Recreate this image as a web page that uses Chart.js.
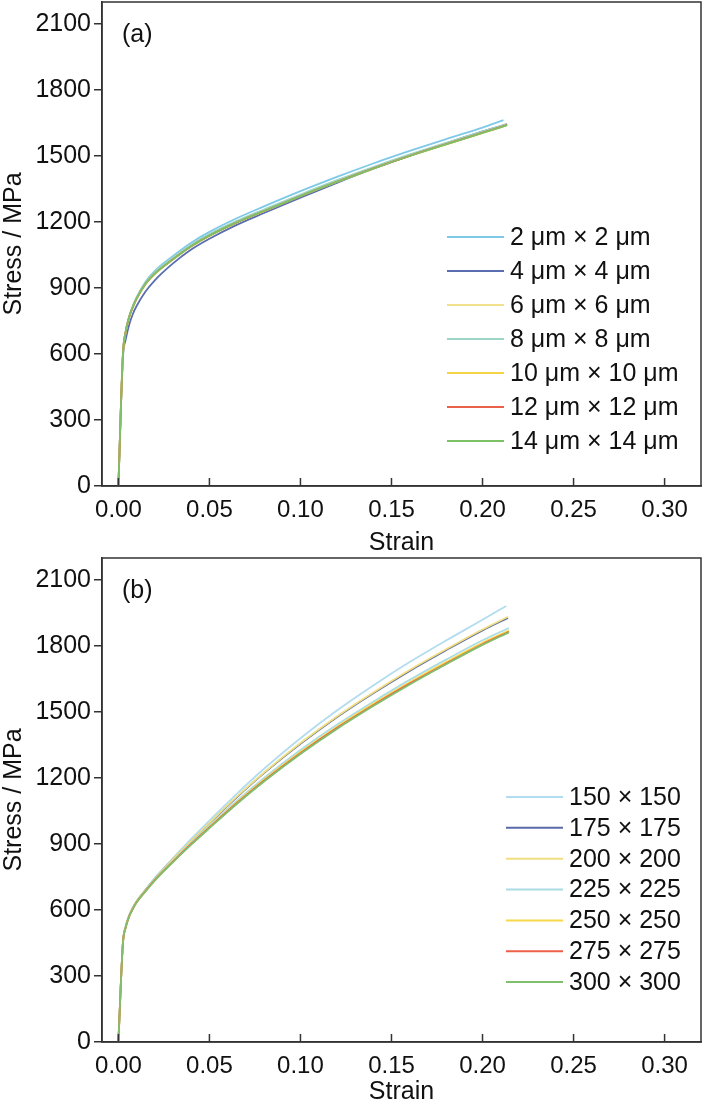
<!DOCTYPE html>
<html>
<head>
<meta charset="utf-8">
<script src="https://cdn.jsdelivr.net/npm/chart.js@4.4.1/dist/chart.umd.min.js"></script>
<style>
  html, body { margin: 0; padding: 0; background: #fff; }
  #wrap { position: relative; width: 703px; height: 1105px; }
  canvas { position: absolute; left: 0; }
</style>
</head>
<body>
<div id="wrap">
  <canvas id="chartA" style="top:0px"></canvas>
  <canvas id="chartB" style="top:552px"></canvas>
</div>
<script>
// ---- data ----
var strainA = [0, 0.0025, 0.004, 0.006, 0.008, 0.01, 0.015, 0.02, 0.03, 0.04, 0.05, 0.065, 0.08, 0.10, 0.12, 0.14, 0.16, 0.18, 0.20, 0.2135];
var endStrainA = [0.2115, 0.2135, 0.2135, 0.2135, 0.2135, 0.2135, 0.2135];
var labelsA = ['2 μm × 2 μm', '4 μm × 4 μm', '6 μm × 6 μm', '8 μm × 8 μm', '10 μm × 10 μm', '12 μm × 12 μm', '14 μm × 14 μm'];
var stressA2  = [0, 602, 703, 773, 820, 858, 930, 978, 1046, 1106, 1155, 1217, 1271, 1340, 1405, 1466, 1523, 1577, 1629, 1663];
var stressA4  = [0, 585, 665, 735, 783, 818, 885, 935, 1012, 1075, 1124, 1187, 1241, 1311, 1378, 1442, 1502, 1558, 1612, 1645];
var stressA6  = [0, 600, 700, 770, 815, 852, 922, 968, 1035, 1093, 1140, 1200, 1252, 1320, 1385, 1446, 1504, 1557, 1609, 1643];
var stressA8  = [0, 601, 702, 772, 818, 855, 925, 972, 1040, 1097, 1145, 1205, 1257, 1325, 1390, 1450, 1507, 1560, 1612, 1645];
var stressA10 = [0, 598, 698, 768, 813, 850, 918, 963, 1030, 1089, 1137, 1197, 1249, 1317, 1382, 1443, 1500, 1553, 1605, 1640];
var stressA12 = [0, 600, 700, 770, 815, 852, 920, 965, 1031, 1090, 1138, 1198, 1250, 1318, 1383, 1444, 1501, 1554, 1606, 1641];
var stressA14 = [0, 600, 700, 770, 815, 852, 920, 965, 1030, 1090, 1138, 1198, 1250, 1318, 1382, 1443, 1500, 1553, 1605, 1640];

var strainB = [0, 0.0025, 0.004, 0.006, 0.008, 0.01, 0.015, 0.02, 0.03, 0.04, 0.05, 0.065, 0.08, 0.10, 0.12, 0.14, 0.16, 0.18, 0.20, 0.214];
var endStrainB = [0.213, 0.214, 0.214, 0.2145, 0.2145, 0.2145, 0.2145];
var labelsB = ['150 × 150', '175 × 175', '200 × 200', '225 × 225', '250 × 250', '275 × 275', '300 × 300'];
var stressB150 = [0, 453, 525, 578, 613, 640, 694, 746, 836, 923, 1006, 1128, 1242, 1381, 1507, 1621, 1727, 1825, 1919, 1982];
var stressB175 = [0, 452, 524, 576, 611, 639, 692, 742, 830, 913, 994, 1112, 1222, 1355, 1476, 1585, 1687, 1781, 1871, 1928];
var stressB200 = [0, 452, 524, 577, 611, 639, 692, 742, 831, 915, 996, 1115, 1225, 1359, 1480, 1589, 1691, 1785, 1875, 1933];
var stressB225 = [0, 451, 522, 575, 609, 637, 690, 740, 826, 907, 984, 1096, 1200, 1327, 1442, 1547, 1646, 1738, 1826, 1882];
var stressB250 = [0, 450, 521, 573, 607, 636, 688, 737, 822, 902, 978, 1089, 1192, 1318, 1432, 1537, 1635, 1727, 1815, 1870];
var stressB275 = [0, 450, 520, 572, 606, 635, 687, 736, 820, 900, 975, 1085, 1188, 1313, 1427, 1531, 1629, 1720, 1808, 1865];
var stressB300 = [0, 450, 520, 572, 606, 634, 686, 734, 818, 897, 972, 1082, 1184, 1309, 1423, 1527, 1625, 1717, 1805, 1862];

var yTicks = [0, 300, 600, 900, 1200, 1500, 1800, 2100];
var xTicks = [0, 0.05, 0.10, 0.15, 0.20, 0.25, 0.30];

// ---- styles ----
var colorsA = ['#7fc9e8', '#5a6db2', '#f2e08e', '#9cd6c6', '#f4d444', '#e9604b', '#7dc266'];
var colorsB = ['#b2dcef', '#5a6aa8', '#f0de80', '#aadce2', '#f6d84a', '#ee5f49', '#80c06c'];
var axisColor = '#333333';
var fontFam = '"Liberation Sans", Arial, sans-serif';

function makeSets(strain, ends, series, labels, colors) {
  return series.map(function (s, i) {
    var pts = s.map(function (v, j) {
      var x = (j === s.length - 1) ? ends[i] : strain[j];
      return { x: x, y: v };
    });
    return {
      label: labels[i],
      data: pts,
      borderColor: colors[i],
      borderWidth: 1.8,
      pointRadius: 0,
      fill: false,
      cubicInterpolationMode: 'monotone',
      order: series.length - i
    };
  });
}

var framePlugin = {
  id: 'frame',
  afterDraw: function (chart, args, opts) {
    var ctx = chart.ctx, a = chart.chartArea, x = chart.scales.x;
    ctx.save();
    ctx.strokeStyle = axisColor;
    ctx.lineWidth = 1.5;
    ctx.strokeRect(a.left, a.top, a.right - a.left, a.bottom - a.top);
    // inward ticks on strain axis
    x.ticks.forEach(function (t) {
      var px = x.getPixelForValue(t.value);
      ctx.beginPath();
      ctx.moveTo(px, a.bottom);
      ctx.lineTo(px, a.bottom - 8);
      ctx.stroke();
    });
    ctx.fillStyle = '#111';
    ctx.font = '25px ' + fontFam;
    ctx.textBaseline = 'middle';
    ctx.textAlign = 'left';
    ctx.fillText(opts.tag, a.left + 20, a.top + opts.tagDy);
    // legend
    var L = opts.legend;
    chart.data.datasets.forEach(function (ds, i) {
      var y = L.y0 + i * L.dy;
      ctx.strokeStyle = ds.borderColor;
      ctx.lineWidth = 2;
      ctx.beginPath();
      ctx.moveTo(L.x0, y);
      ctx.lineTo(L.x1, y);
      ctx.stroke();
      ctx.fillStyle = '#111';
      ctx.fillText(ds.label, L.tx, y + 1);
    });
    ctx.restore();
  }
};

function noPad(s) {
  s.paddingTop = 0; s.paddingBottom = 0; s.paddingLeft = 0; s.paddingRight = 0;
}

function makeChart(id, height, pad, sets, tag, tagDy, legend) {
  var cv = document.getElementById(id);
  cv.width = 703; cv.height = height;
  cv.style.width = '703px'; cv.style.height = height + 'px';
  return new Chart(cv.getContext('2d'), {
    type: 'line',
    data: { datasets: sets },
    plugins: [framePlugin],
    options: {
      responsive: false,
      animation: false,
      devicePixelRatio: 1,
      layout: { padding: { top: pad.top, right: 2, left: 0, bottom: 0 } },
      plugins: {
        legend: { display: false },
        tooltip: { enabled: false },
        frame: { tag: tag, tagDy: tagDy, legend: legend }
      },
      scales: {
        x: {
          type: 'linear',
          min: -0.009,
          max: 0.32,
          afterBuildTicks: function (s) { s.ticks = xTicks.map(function (v) { return { value: v }; }); },
          afterFit: function (s) { s.height = pad.xh; noPad(s); },
          grid: { display: false, drawTicks: false },
          border: { display: true, color: axisColor, width: 1.5 },
          ticks: {
            color: '#111', padding: 10, maxRotation: 0, autoSkip: false,
            font: { family: fontFam, size: 24 },
            callback: function (v) { return Number(v).toFixed(2); }
          },
          title: { display: true, text: 'Strain', color: '#111', padding: { top: 0, bottom: pad.tb },
                   font: { family: fontFam, size: 25, lineHeight: 1 } }
        },
        y: {
          type: 'linear',
          min: 0,
          max: 2200,
          afterBuildTicks: function (s) { s.ticks = yTicks.map(function (v) { return { value: v }; }); },
          afterFit: function (s) { s.width = 102; noPad(s); },
          grid: { drawOnChartArea: false, drawTicks: true, tickLength: 8, color: axisColor, lineWidth: 1.5 },
          border: { display: true, color: axisColor, width: 1.5 },
          ticks: {
            color: '#111', padding: 3, font: { family: fontFam, size: 25 },
            callback: function (v) { return String(v); }
          },
          title: { display: true, text: 'Stress / MPa', color: '#111', padding: { top: 0, bottom: 0 },
                   font: { family: fontFam, size: 25, lineHeight: 1.1 } }
        }
      }
    }
  });
}

makeChart('chartA', 552, { top: 2, xh: 66, tb: -4 },
  makeSets(strainA, endStrainA, [stressA2, stressA4, stressA6, stressA8, stressA10, stressA12, stressA14], labelsA, colorsA),
  '(a)', 33,
  { x0: 447, x1: 504, tx: 510, y0: 237, dy: 34 });

makeChart('chartB', 553, { top: 6, xh: 63, tb: 0 },
  makeSets(strainB, endStrainB, [stressB150, stressB175, stressB200, stressB225, stressB250, stressB275, stressB300], labelsB, colorsB),
  '(b)', 33,
  { x0: 506, x1: 563, tx: 569, y0: 245, dy: 30.85 });
</script>
</body>
</html>
